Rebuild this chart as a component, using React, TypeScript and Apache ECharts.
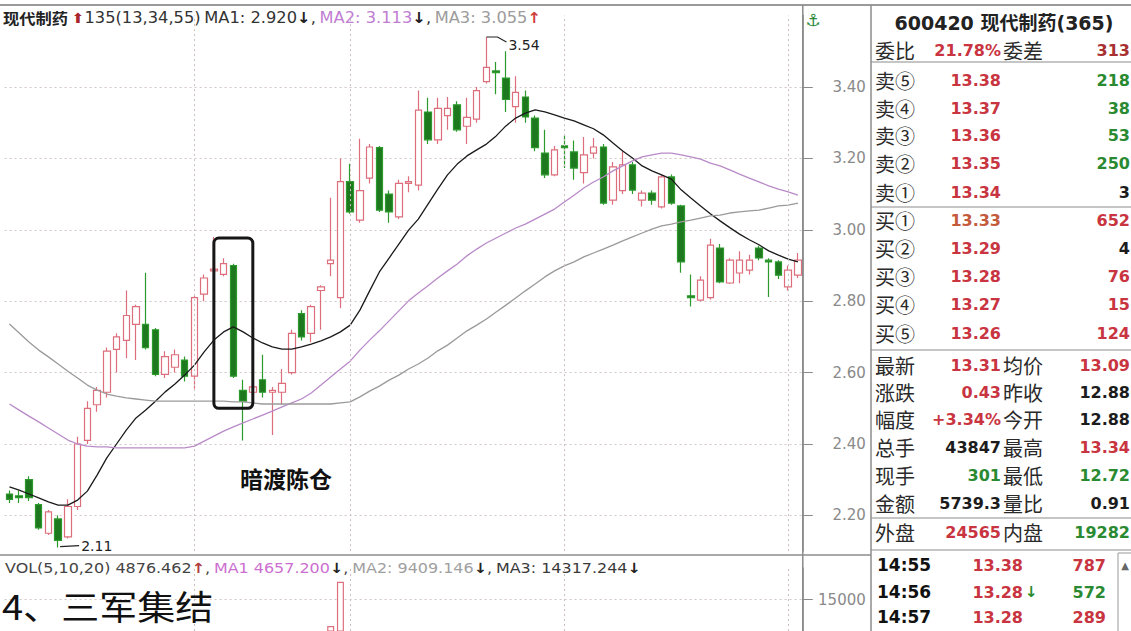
import React, { useEffect, useRef } from 'react';
import * as echarts from 'echarts';

// ---------- data ----------
const categories = [
  '1','2','3','4','5','6','7','8','9','10','11','12','13','14','15','16','17','18','19','20',
  '21','22','23','24','25','26','27','28','29','30','31','32','33','34','35','36','37','38','39','40',
  '41','42','43','44','45','46','47','48','49','50','51','52','53','54','55','56','57','58','59','60',
  '61','62','63','64','65','66','67','68','69','70','71','72','73','74','75','76','77','78','79','80',
  '81','82',
];

// [open, close, low, high]
const candles = [
  [2.26, 2.245, 2.235, 2.27], [2.255, 2.25, 2.235, 2.27], [2.30, 2.25, 2.24, 2.31], [2.23, 2.165, 2.16, 2.235],
  [2.15, 2.21, 2.145, 2.215], [2.19, 2.13, 2.11, 2.20], [2.14, 2.225, 2.135, 2.245], [2.225, 2.40, 2.215, 2.42],
  [2.41, 2.50, 2.40, 2.52], [2.51, 2.55, 2.49, 2.56], [2.545, 2.66, 2.53, 2.67], [2.665, 2.70, 2.60, 2.71],
  [2.69, 2.76, 2.64, 2.83], [2.735, 2.785, 2.635, 2.79], [2.735, 2.67, 2.665, 2.88], [2.72, 2.595, 2.59, 2.725],
  [2.595, 2.645, 2.585, 2.66], [2.615, 2.65, 2.60, 2.665], [2.635, 2.59, 2.575, 2.645], [2.59, 2.81, 2.555, 2.815],
  [2.82, 2.865, 2.80, 2.875], [2.885, 2.89, 2.86, 2.98], [2.875, 2.905, 2.87, 2.92], [2.90, 2.59, 2.585, 2.905],
  [2.55, 2.52, 2.41, 2.58], [2.545, 2.56, 2.535, 2.57], [2.58, 2.545, 2.53, 2.65], [2.545, 2.55, 2.425, 2.56],
  [2.545, 2.57, 2.51, 2.61], [2.60, 2.71, 2.595, 2.72], [2.765, 2.70, 2.69, 2.775], [2.71, 2.785, 2.685, 2.79],
  [2.83, 2.84, 2.72, 2.845], [2.905, 2.915, 2.87, 3.09], [2.81, 3.135, 2.78, 3.20], [3.135, 3.05, 3.045, 3.185],
  [3.027, 3.11, 3.02, 3.255], [3.145, 3.232, 3.13, 3.24], [3.23, 3.055, 3.05, 3.235], [3.10, 3.05, 3.02, 3.11],
  [3.036, 3.13, 3.03, 3.14], [3.13, 3.135, 3.105, 3.15], [3.125, 3.335, 3.11, 3.39], [3.33, 3.252, 3.24, 3.37],
  [3.252, 3.34, 3.24, 3.37], [3.32, 3.34, 3.28, 3.372], [3.35, 3.28, 3.275, 3.36], [3.29, 3.315, 3.24, 3.37],
  [3.31, 3.39, 3.30, 3.40], [3.415, 3.455, 3.41, 3.54], [3.445, 3.44, 3.38, 3.47], [3.425, 3.365, 3.33, 3.50],
  [3.345, 3.385, 3.30, 3.43], [3.372, 3.316, 3.30, 3.39], [3.313, 3.23, 3.22, 3.32], [3.215, 3.154, 3.145, 3.28],
  [3.154, 3.224, 3.15, 3.235], [3.235, 3.23, 3.173, 3.265], [3.218, 3.173, 3.14, 3.25], [3.16, 3.21, 3.13, 3.26],
  [3.215, 3.232, 3.20, 3.257], [3.232, 3.075, 3.07, 3.24], [3.083, 3.176, 3.07, 3.19], [3.11, 3.182, 3.10, 3.22],
  [3.182, 3.111, 3.10, 3.19], [3.083, 3.103, 3.065, 3.11], [3.103, 3.083, 3.07, 3.11], [3.064, 3.148, 3.06, 3.155],
  [3.148, 3.075, 3.07, 3.155], [3.067, 2.91, 2.88, 3.07], [2.815, 2.81, 2.785, 2.875], [2.803, 2.859, 2.80, 2.87],
  [2.81, 2.957, 2.805, 2.975], [2.949, 2.854, 2.85, 2.96], [2.851, 2.915, 2.848, 2.92], [2.879, 2.915, 2.85, 2.94],
  [2.887, 2.915, 2.875, 2.93], [2.949, 2.921, 2.915, 2.955], [2.915, 2.91, 2.812, 2.92], [2.91, 2.873, 2.862, 2.915],
  [2.84, 2.887, 2.83, 2.90], [2.873, 2.915, 2.865, 2.935],
];

const ma1 = [
  2.280, 2.271, 2.260, 2.249, 2.238, 2.229, 2.229, 2.243, 2.268, 2.313,
  2.361, 2.400, 2.439, 2.473, 2.495, 2.520, 2.546, 2.568, 2.593, 2.621,
  2.658, 2.691, 2.714, 2.728, 2.714, 2.697, 2.683, 2.672, 2.666, 2.666,
  2.672, 2.680, 2.689, 2.700, 2.714, 2.733, 2.775, 2.829, 2.882, 2.921,
  2.960, 2.999, 3.030, 3.072, 3.114, 3.154, 3.184, 3.207, 3.224, 3.240,
  3.263, 3.291, 3.313, 3.327, 3.336, 3.330, 3.322, 3.313, 3.305, 3.294,
  3.283, 3.266, 3.243, 3.221, 3.201, 3.179, 3.165, 3.154, 3.142, 3.112,
  3.089, 3.067, 3.045, 3.025, 3.006, 2.988, 2.972, 2.958, 2.941, 2.929,
  2.918, 2.910,
];

const ma2 = [
  2.512, 2.495, 2.478, 2.462, 2.445, 2.428, 2.411, 2.400, 2.394, 2.392,
  2.392, 2.389, 2.389, 2.389, 2.389, 2.389, 2.389, 2.389, 2.389, 2.394,
  2.408, 2.422, 2.436, 2.448, 2.459, 2.470, 2.481, 2.492, 2.504, 2.515,
  2.526, 2.543, 2.565, 2.588, 2.610, 2.632, 2.663, 2.691, 2.717, 2.745,
  2.773, 2.801, 2.823, 2.843, 2.865, 2.885, 2.904, 2.927, 2.946, 2.963,
  2.977, 2.991, 3.005, 3.016, 3.030, 3.044, 3.058, 3.078, 3.097, 3.117,
  3.134, 3.148, 3.165, 3.179, 3.193, 3.204, 3.210, 3.215, 3.215, 3.210,
  3.204, 3.198, 3.187, 3.179, 3.168, 3.156, 3.145, 3.134, 3.123, 3.114,
  3.106, 3.097,
];

const ma3 = [
  2.736, 2.711, 2.686, 2.663, 2.644, 2.624, 2.604, 2.585, 2.565, 2.551,
  2.540, 2.534, 2.529, 2.526, 2.523, 2.520, 2.520, 2.520, 2.520, 2.520,
  2.520, 2.520, 2.520, 2.518, 2.518, 2.515, 2.512, 2.512, 2.512, 2.512,
  2.512, 2.512, 2.512, 2.512, 2.515, 2.518, 2.532, 2.548, 2.562, 2.579,
  2.593, 2.610, 2.624, 2.641, 2.661, 2.677, 2.697, 2.717, 2.733, 2.750,
  2.770, 2.789, 2.809, 2.829, 2.848, 2.868, 2.885, 2.899, 2.910, 2.924,
  2.935, 2.946, 2.957, 2.969, 2.980, 2.991, 3.002, 3.011, 3.016, 3.022,
  3.027, 3.033, 3.039, 3.041, 3.047, 3.050, 3.053, 3.055, 3.061, 3.067,
  3.069, 3.075,
];

// only two volume bars reach into the visible strip of the volume panel
const volume = [
  null, null, null, null, null, null, null, null, null, null,
  null, null, null, null, null, null, null, null, null, null,
  null, null, null, null, null, null, null, null, null, null,
  null, null, null, 10800, 17800, null, null, null, null, null,
  null, null, null, null, null, null, null, null, null, null,
  null, null, null, null, null, null, null, null, null, null,
  null, null, null, null, null, null, null, null, null, null,
  null, null, null, null, null, null, null, null, null, null,
  null, null,
];

const priceTicks = [2.2, 2.4, 2.6, 2.8, 3.0, 3.2, 3.4];
const volumeTicks = [15000];
const periodMarks = ['20', '36', '58', '81'];

const titleName = '现代制药';
const titleIndicator = '135(13,34,55)';
const maLabels = ['MA1: 2.920', 'MA2: 3.113', 'MA3: 3.055'];
const volLabels = ['VOL(5,10,20) 4876.462', 'MA1 4657.200', 'MA2: 9409.146', 'MA3: 14317.244'];
const quoteTitle = '600420 现代制药(365)';
const ratioRow = ['委比', '21.78%', '委差', '313'];
const askRows = [
  ['卖⑤', '13.38', '218'], ['卖④', '13.37', '38'], ['卖③', '13.36', '53'], ['卖②', '13.35', '250'], ['卖①', '13.34', '3'],
];
const bidRows = [
  ['买①', '13.33', '652'], ['买②', '13.29', '4'], ['买③', '13.28', '76'], ['买④', '13.27', '15'], ['买⑤', '13.26', '124'],
];
const statRows = [
  ['最新', '13.31', '均价', '13.09'], ['涨跌', '0.43', '昨收', '12.88'], ['幅度', '+3.34%', '今开', '12.88'],
  ['总手', '43847', '最高', '13.34'], ['现手', '301', '最低', '12.72'], ['金额', '5739.3', '量比', '0.91'],
  ['外盘', '24565', '内盘', '19282'],
];
const tradeRows = [['14:55', '13.38', '787'], ['14:56', '13.28', '572'], ['14:57', '13.28', '289']];
const captionText = '4、三军集结';
const annotationText = '暗渡陈仓';

// ---------- styling ----------
const NUM = '"DejaVu Sans", "Noto Sans CJK SC", sans-serif';
const CJK = '"Noto Sans CJK SC", "DejaVu Sans", sans-serif';
const RED = '#c8343f';
const GREEN = '#2a8a32';
const DARK = '#1c1c1c';
const AXIS = '#8a8a8a';
const GRID_LEFT = 4.6;
const GRID_WIDTH = 798.2;
const RIGHT_EDGE = 1130;

function txt(text: string, x: number, y: number, o: any = {}) {
  return {
    type: 'text', x, y, z: 100, silent: true, scaleX: o.scaleX ?? 1,
    style: {
      text, fill: o.fill ?? DARK, fontSize: o.size ?? 16, fontFamily: o.family ?? NUM,
      fontWeight: o.weight ?? 'bold', align: o.align ?? 'left', verticalAlign: o.valign ?? 'middle',
      lineHeight: o.lineHeight ?? undefined,
    },
  };
}
function ln(x1: number, y1: number, x2: number, y2: number, stroke = '#8c8c8c', lineWidth = 1) {
  return { type: 'line', z: 90, silent: true, shape: { x1, y1, x2, y2 }, style: { stroke, lineWidth } };
}

function buildOption() {
  const guide = {
    symbol: ['none', 'none'], silent: true, label: { show: false },
    lineStyle: { color: '#cbbfbf', type: [2, 3], width: 1 },
    data: periodMarks.map((c) => ({ xAxis: c })),
  };
  const hiddenX = (gridIndex: number) => ({
    type: 'category', gridIndex, data: categories, boundaryGap: true,
    axisLine: { show: false }, axisTick: { show: false }, axisLabel: { show: false }, splitLine: { show: false },
  });
  const split = { show: true, lineStyle: { color: '#d2c6c6', type: [2, 3], width: 1 } };
  return {
    animation: false,
    backgroundColor: '#ffffff',
    grid: [
      { left: GRID_LEFT, top: 15.6, width: GRID_WIDTH, height: 535.5 },
      { left: GRID_LEFT, top: 568, width: GRID_WIDTH, height: 63 },
    ],
    xAxis: [hiddenX(0), hiddenX(1)],
    yAxis: [
      {
        type: 'value', gridIndex: 0, position: 'right', min: 2.1, max: 3.6, splitNumber: 7,
        axisLine: { show: true, lineStyle: { color: AXIS, width: 1.5 } },
        axisTick: { show: true, customValues: priceTicks, length: 10, lineStyle: { color: AXIS } },
        axisLabel: {
          customValues: priceTicks,
          formatter: (v: number) => v.toFixed(2), align: 'right', margin: 63,
          color: AXIS, fontSize: 15, fontFamily: NUM,
        },
        splitLine: split,
      },
      {
        type: 'value', gridIndex: 1, position: 'right', min: 10000, max: 20000, interval: 5000,
        axisLine: { show: true, lineStyle: { color: AXIS, width: 1.5 } },
        axisTick: { show: true, customValues: volumeTicks, length: 10, lineStyle: { color: AXIS } },
        axisLabel: {
          customValues: volumeTicks, formatter: (v: number) => (v === 15000 ? String(v) : ''),
          align: 'right', margin: 63, color: AXIS, fontSize: 15, fontFamily: NUM,
        },
        splitLine: split,
      },
    ],
    series: [
      {
        type: 'candlestick', xAxisIndex: 0, yAxisIndex: 0, data: candles, barWidth: 7,
        itemStyle: { color: '#ffffff', color0: '#1e781e', borderColor: '#dd6f7c', borderColor0: '#2c9a2c', borderWidth: 1.2 },
        markLine: guide,
      },
      { type: 'line', xAxisIndex: 0, yAxisIndex: 0, data: ma1, symbol: 'none', z: 3, lineStyle: { color: '#1a1a1a', width: 1.3 } },
      { type: 'line', xAxisIndex: 0, yAxisIndex: 0, data: ma2, symbol: 'none', z: 3, lineStyle: { color: '#b98ac8', width: 1.3 } },
      { type: 'line', xAxisIndex: 0, yAxisIndex: 0, data: ma3, symbol: 'none', z: 3, lineStyle: { color: '#9a9a9a', width: 1.3 } },
      {
        type: 'bar', xAxisIndex: 1, yAxisIndex: 1, data: volume, barWidth: 7,
        itemStyle: { color: '#ffffff', borderColor: '#dd6f7c', borderWidth: 1.2 },
        markLine: guide,
      },
    ],
  };
}

function buildGraphics(px: (i: number, v: number) => number[]) {
  const g: any[] = [];
  const axisX = GRID_LEFT + GRID_WIDTH;
  // frame lines
  g.push(ln(0, 5, 1131, 5, '#9a9a9a', 2));
  g.push(ln(axisX, 5, axisX, 631, AXIS, 1.5));
  g.push(ln(0, 555, 871, 555, '#8c8c8c', 1.5));
  g.push(ln(871, 5, 871, 631, '#8c8c8c', 1.5));
  [62, 207, 350, 518, 550].forEach((y) => g.push(ln(871, y, 1131, y, '#8c8c8c', 1.2)));

  // chart header
  g.push({
    type: 'text', x: 3, y: 18, z: 100, scaleX: 1.085, silent: true,
    style: {
      text: `{n|${titleName}} {i|⬆}{k|${titleIndicator}} {k|${maLabels[0]}}{a|↓}{k|,} {m|${maLabels[1]}}{a|↓}{k|,} {g|${maLabels[2]}}{r|↑}`,
      verticalAlign: 'middle',
      rich: {
        n: { fontFamily: CJK, fontSize: 15, fontWeight: 'bold', fill: '#222' },
        i: { fontFamily: NUM, fontSize: 14, fill: '#a8262c' },
        k: { fontFamily: NUM, fontSize: 15, fill: '#333' },
        a: { fontFamily: NUM, fontSize: 15, fontWeight: 'bold', fill: '#222' },
        m: { fontFamily: NUM, fontSize: 15, fill: '#c07ed2' },
        g: { fontFamily: NUM, fontSize: 15, fill: '#9c9c9c' },
        r: { fontFamily: NUM, fontSize: 15, fontWeight: 'bold', fill: '#d04040' },
      },
    },
  });
  g.push(txt('⚓', 813, 20, { fill: '#2a8a3a', size: 17, weight: 'bold', align: 'center' }));

  // volume header
  g.push({
    type: 'text', x: 5, y: 568, z: 100, scaleX: 1.14, silent: true,
    style: {
      text: `{k|${volLabels[0]}}{r|↑}{k|,} {m|${volLabels[1]}}{a|↓}{k|,} {g|${volLabels[2]}}{a|↓}{k|,} {d|${volLabels[3]}}{a|↓}`,
      verticalAlign: 'middle',
      rich: {
        k: { fontFamily: NUM, fontSize: 14, fill: '#444' },
        r: { fontFamily: NUM, fontSize: 14, fontWeight: 'bold', fill: '#b03a3a' },
        a: { fontFamily: NUM, fontSize: 14, fontWeight: 'bold', fill: '#222' },
        m: { fontFamily: NUM, fontSize: 14, fill: '#cc6fd0' },
        g: { fontFamily: NUM, fontSize: 14, fill: '#a0a0a0' },
        d: { fontFamily: NUM, fontSize: 14, fill: '#3a3a3a' },
      },
    },
  });

  // quote panel
  const LBL = { size: 20, family: CJK, weight: 'normal', fill: '#2a2a2a', lineHeight: 24 };
  g.push(txt(quoteTitle, 1004, 23, { size: 19, align: 'center', fill: '#222' }));
  g.push(txt(ratioRow[0], 875, 50, LBL));
  g.push(txt(ratioRow[1], 1001, 50, { fill: RED, align: 'right' }));
  g.push(txt(ratioRow[2], 1003, 50, LBL));
  g.push(txt(ratioRow[3], RIGHT_EDGE, 50, { fill: '#a83030', align: 'right' }));

  const askY = [80, 108, 135, 163, 192];
  const askVolColor = [GREEN, GREEN, GREEN, GREEN, DARK];
  askRows.forEach((r, k) => {
    g.push(txt(r[0], 875, askY[k], LBL));
    g.push(txt(r[1], 1001, askY[k], { fill: RED, align: 'right' }));
    g.push(txt(r[2], RIGHT_EDGE, askY[k], { fill: askVolColor[k], align: 'right' }));
  });
  const bidY = [220, 248, 276, 304, 333];
  const bidVolColor = [RED, DARK, RED, RED, RED];
  bidRows.forEach((r, k) => {
    g.push(txt(r[0], 875, bidY[k], LBL));
    g.push(txt(r[1], 1001, bidY[k], { fill: k === 0 ? '#c45a3c' : RED, align: 'right' }));
    g.push(txt(r[2], RIGHT_EDGE, bidY[k], { fill: bidVolColor[k], align: 'right' }));
  });
  const statY = [365, 392, 419, 447, 475, 503, 532];
  const midColor = [RED, RED, RED, DARK, GREEN, DARK, RED];
  const rightColor = [RED, DARK, DARK, RED, GREEN, DARK, GREEN];
  statRows.forEach((r, k) => {
    g.push(txt(r[0], 875, statY[k], LBL));
    g.push(txt(r[1], 1001, statY[k], { fill: midColor[k], align: 'right' }));
    g.push(txt(r[2], 1003, statY[k], LBL));
    g.push(txt(r[3], RIGHT_EDGE, statY[k], { fill: rightColor[k], align: 'right' }));
  });
  const tradeY = [565, 592, 617];
  const tradeVolColor = [RED, GREEN, RED];
  tradeRows.forEach((r, k) => {
    g.push(txt(r[0], 877, tradeY[k], { size: 17, fill: '#111' }));
    g.push(txt(r[1], 1023, tradeY[k], { fill: RED, align: 'right' }));
    if (k === 1) g.push(txt('↓', 1025, tradeY[k], { fill: GREEN, size: 15 }));
    g.push(txt(r[2], 1106, tradeY[k], { fill: tradeVolColor[k], align: 'right' }));
  });
  g.push({ type: 'rect', z: 95, silent: true, shape: { x: 1118, y: 553, width: 14, height: 80 }, style: { fill: '#fff', stroke: '#999', lineWidth: 1 } });
  g.push(txt('▲', 1125, 565, { size: 10, fill: '#666', weight: 'normal', align: 'center' }));

  // extreme-value markers
  let hi = 0;
  let lo = 0;
  candles.forEach((c, i) => {
    if (c[3] > candles[hi][3]) hi = i;
    if (c[2] < candles[lo][2]) lo = i;
  });
  const [hx, hy] = px(hi, candles[hi][3]);
  g.push({ type: 'polyline', z: 100, silent: true, shape: { points: [[hx, hy], [hx + 11, hy], [hx + 20, hy + 5]] }, style: { stroke: '#222', lineWidth: 1.2, fill: 'none' } });
  g.push(txt(candles[hi][3].toFixed(2), hx + 22, hy + 8, { size: 14, weight: 'normal', fill: '#222' }));
  const [lx, ly] = px(lo, candles[lo][2]);
  g.push({ type: 'polyline', z: 100, silent: true, shape: { points: [[lx + 2, ly - 1], [lx + 21, ly - 2]] }, style: { stroke: '#222', lineWidth: 1.2, fill: 'none' } });
  g.push(txt(candles[lo][2].toFixed(2), lx + 23, ly - 2, { size: 14, weight: 'normal', fill: '#222' }));

  // hand-drawn annotation box and note
  const [bx1, by1] = px(21, 2.977);
  const [bx2, by2] = px(25, 2.5);
  g.push({ type: 'rect', z: 100, silent: true, shape: { x: bx1, y: by1, width: bx2 - bx1, height: by2 - by1, r: 5 }, style: { fill: 'none', stroke: '#161616', lineWidth: 3 } });
  const [nx, ny] = px(24, 2.305);
  g.push(txt(annotationText, nx - 3, ny, { size: 23, family: CJK, fill: '#111' }));

  // article caption
  g.push(txt(captionText, 2, 605, { size: 34, family: CJK, weight: 'normal', fill: '#111', lineHeight: 36, scaleX: 1.12 }));
  return g;
}

export default function App() {
  const ref = useRef<HTMLDivElement>(null);
  useEffect(() => {
    const el = ref.current;
    if (!el) return;
    const chart = echarts.init(el, undefined, { renderer: 'svg' });
    chart.setOption(buildOption() as any);
    const px = (i: number, v: number) =>
      chart.convertToPixel({ xAxisIndex: 0, yAxisIndex: 0 } as any, [i, v]) as unknown as number[];
    chart.setOption({ graphic: buildGraphics(px) } as any);
    return () => chart.dispose();
  }, []);
  return (
    <div
      ref={ref}
      style={{ position: 'absolute', left: 0, top: 0, width: 1131, height: 631, background: '#fff' }}
    />
  );
}
